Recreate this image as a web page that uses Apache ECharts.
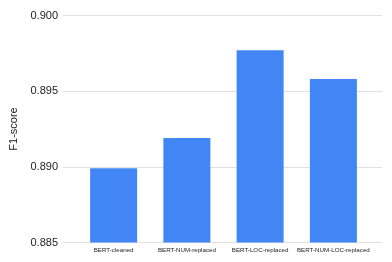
<!DOCTYPE html>
<html><head><meta charset="utf-8">
<script src="https://cdn.jsdelivr.net/npm/echarts@6/dist/echarts.min.js"></script>
<style>html,body{margin:0;padding:0;background:#fff}#c{width:392px;height:262px}</style>
</head><body><div id="c"></div>
<script>
const categories = ['BERT-cleaned', 'BERT-NUM-replaced', 'BERT-LOC-replaced', 'BERT-NUM-LOC-replaced'];
const f1Scores = [0.8899, 0.8919, 0.8977, 0.8958];
const yTicks = [0.885, 0.890, 0.895, 0.900];
const yTitle = 'F1-score';

const chart = echarts.init(document.getElementById('c'));
const yMin = yTicks[0], yMax = yTicks[yTicks.length - 1], yStep = yTicks[1] - yTicks[0];
chart.setOption({
  animation: false,
  grid: [
    { left: 63, right: 10, top: 15.5, bottom: 19.5 },
    { left: 77, right: 22, top: 15.5, bottom: 19.5 }
  ],
  xAxis: [
    { gridIndex: 0, type: 'category', data: categories, show: false },
    { gridIndex: 1, type: 'category', data: categories,
      axisLine: { show: false }, axisTick: { show: false },
      axisLabel: { fontSize: 6.2, color: '#222', margin: 5, fontFamily: 'Liberation Sans, Arial, sans-serif', interval: 0 } }
  ],
  yAxis: [
    { gridIndex: 0, type: 'value', min: yMin, max: yMax, interval: yStep,
      name: yTitle, nameLocation: 'middle', nameGap: 40, nameRotate: 90,
      nameTextStyle: { fontSize: 11, color: '#222', fontFamily: 'Liberation Sans, Arial, sans-serif' },
      axisLine: { show: false }, axisTick: { show: false },
      axisLabel: { fontSize: 11, color: '#222', margin: 5, fontFamily: 'Liberation Sans, Arial, sans-serif',
        formatter: v => v.toFixed(3) },
      splitLine: { lineStyle: { color: '#e0e0e0', width: 1 } } },
    { gridIndex: 1, type: 'value', min: yMin, max: yMax, interval: yStep, show: false,
      splitLine: { show: false } }
  ],
  series: [{
    type: 'bar', xAxisIndex: 1, yAxisIndex: 1, data: f1Scores,
    barWidth: 47, itemStyle: { color: '#4285F4' }
  }]
});
</script></body></html>
